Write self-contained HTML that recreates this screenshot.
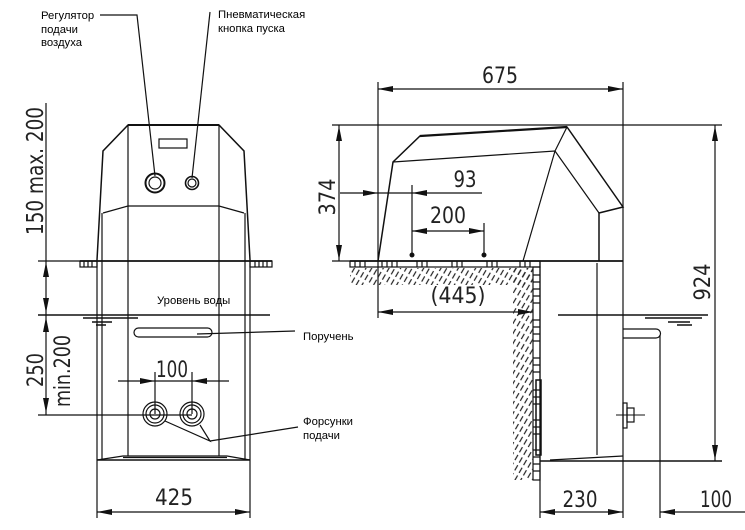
<!DOCTYPE html>
<html><head><meta charset="utf-8"><style>
html,body{margin:0;padding:0;background:#fff;}
svg{display:block;}
.l{font-family:"Liberation Sans","Noto Sans CJK SC",sans-serif;font-size:11.3px;fill:#000;}
.d{font-family:"DejaVu Sans","Liberation Sans",sans-serif;font-size:22px;fill:#222;font-weight:normal;}
</style></head><body>
<svg width="745" height="530" viewBox="0 0 745 530" xmlns="http://www.w3.org/2000/svg">
<defs>
<pattern id="h" width="5" height="9" patternUnits="userSpaceOnUse" patternTransform="rotate(30)">
<line x1="1" y1="0" x2="1" y2="9" stroke="#222" stroke-width="1.2" stroke-dasharray="6 3"/>
</pattern>
</defs>
<rect width="745" height="530" fill="#fff"/>

<g stroke="#111" fill="none" stroke-width="1.2">
<!-- ================= LEFT FIGURE ================= -->
<polyline points="97,260 103,151 128,125 219,125 244,151 250,260" stroke-width="1.5"/>
<line x1="97" y1="260" x2="97" y2="518"/>
<line x1="250" y1="260" x2="250" y2="518"/>
<line x1="128" y1="125" x2="128" y2="456"/>
<line x1="219" y1="125" x2="219" y2="456"/>
<polyline points="103,213 128,206 219,206 244,213"/>
<line x1="102" y1="213" x2="102" y2="460"/>
<line x1="245" y1="213" x2="245" y2="460"/>
<line x1="128" y1="125" x2="219" y2="125" stroke-width="2"/>
<rect x="159" y="139" width="28" height="9"/>
<circle cx="155" cy="183" r="9.5" stroke-width="2"/>
<circle cx="155" cy="183" r="6"/>
<circle cx="192" cy="183" r="6.5" stroke-width="1.6"/>
<circle cx="192" cy="183" r="4"/>
<!-- deck -->
<line x1="38" y1="261" x2="80" y2="261"/>
<line x1="80" y1="261" x2="272" y2="261" stroke-width="1.8"/>
<rect x="80" y="261" width="17" height="6"/>
<rect x="250" y="261" width="22" height="6"/>
<path d="M84,261V267M88,261V267M92,261V267M255,261V267M259,261V267M263,261V267M267,261V267"/>
<!-- water -->
<line x1="38" y1="315" x2="270" y2="315" stroke-width="1.5"/>
<line x1="83" y1="318" x2="138" y2="318" stroke-width="1.5"/>
<line x1="92" y1="322" x2="112" y2="322" stroke-width="1.5"/>
<line x1="96" y1="325" x2="106" y2="325" stroke-width="1.5"/>
<!-- handrail slot -->
<rect x="134" y="328" width="78" height="9" rx="4.5"/>
<!-- nozzles -->
<circle cx="155" cy="414" r="12"/><circle cx="155" cy="414" r="9"/><circle cx="155" cy="414" r="5"/>
<circle cx="192" cy="414" r="12"/><circle cx="192" cy="414" r="9"/><circle cx="192" cy="414" r="5"/>
<line x1="38" y1="415" x2="192" y2="415"/>
<line x1="155" y1="372" x2="155" y2="414"/>
<line x1="192" y1="372" x2="192" y2="414"/>
<!-- bottom -->
<line x1="97" y1="460" x2="250" y2="460" stroke-width="1.5"/>
<polyline points="97,460 123,456 227,456 250,460"/>
<line x1="123" y1="457.5" x2="227" y2="457.5"/>
<!-- left dims -->
<line x1="46" y1="103" x2="46" y2="415"/>
<line x1="118" y1="381" x2="229" y2="381"/>
<line x1="97" y1="512" x2="250" y2="512"/>
<!-- leaders -->
<polyline points="100,15 137,15 155,176"/>
<line x1="210" y1="12" x2="192" y2="178"/>
<line x1="197" y1="334" x2="295" y2="331"/>
<polyline points="165,421 210,441 200,425"/>
<line x1="210" y1="441" x2="298" y2="427"/>

<!-- ================= RIGHT FIGURE ================= -->
<line x1="332" y1="125" x2="722" y2="125"/>
<line x1="378" y1="82" x2="378" y2="318"/>
<line x1="623" y1="82" x2="623" y2="518"/>
<line x1="378" y1="89" x2="623" y2="89"/>
<polyline points="378,261 393,162 420,136 567,127 623,207 599,213 599,261" stroke-width="1.5"/>
<line x1="420" y1="136" x2="567" y2="127" stroke-width="2.2"/>
<polyline points="393,162 555,151 599,213"/>
<line x1="555" y1="151" x2="567" y2="127"/>
<line x1="555" y1="151" x2="523" y2="261"/>
<!-- deck -->
<line x1="332" y1="261" x2="350" y2="261"/>
<line x1="350" y1="261" x2="623" y2="261" stroke-width="1.8"/>
<rect x="350" y="261" width="190" height="6"/>
<path d="M355,261V267M360,261V267M365,261V267M382,261V267M387,261V267M392,261V267M397,261V267M417,261V267M422,261V267M427,261V267M452,261V267M457,261V267M462,261V267M487,261V267M492,261V267M497,261V267M520,261V267M525,261V267M530,261V267"/>
<rect x="533" y="267" width="7" height="213"/>
<path d="M533,275H540M533,282H540M533,289H540M533,296H540M533,303H540M533,320H540M533,327H540M533,334H540M533,341H540M533,358H540M533,365H540M533,372H540M533,390H540M533,397H540M533,404H540M533,420H540M533,427H540M533,434H540M533,450H540M533,457H540M533,464H540M533,471H540"/>
<rect x="536" y="380" width="5" height="75" stroke-width="1.5"/>
<!-- body below deck -->
<line x1="540" y1="261" x2="540" y2="518"/>
<line x1="597" y1="263" x2="597" y2="455"/>
<line x1="540" y1="461" x2="722" y2="461" stroke-width="1.4"/>
<line x1="550" y1="460" x2="623" y2="456"/>
<!-- water -->
<line x1="558" y1="315" x2="708" y2="315" stroke-width="1.5"/>
<line x1="645" y1="318" x2="702" y2="318" stroke-width="1.5"/>
<line x1="668" y1="322" x2="690" y2="322" stroke-width="1.5"/>
<line x1="677" y1="325" x2="692" y2="325" stroke-width="1.5"/>
<!-- handrail -->
<path d="M623,329H656A4.5,4.5 0 0 1 656,338H623"/>
<line x1="660" y1="335" x2="660" y2="518"/>
<!-- nozzle side -->
<rect x="623" y="403" width="4" height="25"/>
<rect x="627" y="408" width="7" height="14"/>
<line x1="616" y1="415" x2="645" y2="415" stroke-width="0.9"/>
<!-- dims -->
<line x1="339" y1="125" x2="339" y2="261"/>
<line x1="340" y1="193" x2="482" y2="193"/>
<line x1="412" y1="185" x2="412" y2="255"/>
<line x1="412" y1="231" x2="484" y2="231"/>
<line x1="484" y1="223" x2="484" y2="255"/>
<line x1="378" y1="312" x2="533" y2="312"/>
<line x1="715" y1="125" x2="715" y2="461"/>
<line x1="540" y1="512" x2="623" y2="512"/>
<line x1="660" y1="512" x2="745" y2="512"/>
</g>

<!-- hatching -->
<rect x="350" y="268" width="183" height="17" fill="url(#h)"/>
<rect x="513" y="268" width="20" height="212" fill="url(#h)"/>

<!-- dots -->
<g fill="#111">
<circle cx="412" cy="255" r="2.5"/>
<circle cx="484" cy="255" r="2.5"/>
</g>

<!-- arrows -->
<g fill="#111" stroke="none">
<polygon points="46,262 43,277 49,277"/>
<polygon points="46,313 43,298 49,298"/>
<polygon points="46,317 43,332 49,332"/>
<polygon points="46,413 43,398 49,398"/>
<polygon points="155,381 140,378 140,384"/>
<polygon points="192,381 207,378 207,384"/>
<polygon points="97,512 112,509 112,515"/>
<polygon points="250,512 235,509 235,515"/>
<polygon points="378,89 393,86 393,92"/>
<polygon points="623,89 608,86 608,92"/>
<polygon points="339,126 336,141 342,141"/>
<polygon points="339,260 336,245 342,245"/>
<polygon points="378,193 363,190 363,196"/>
<polygon points="412,193 427,190 427,196"/>
<polygon points="412,231 427,228 427,234"/>
<polygon points="484,231 469,228 469,234"/>
<polygon points="378,312 393,309 393,315"/>
<polygon points="533,312 518,309 518,315"/>
<polygon points="715,126 712,141 718,141"/>
<polygon points="715,460 712,445 718,445"/>
<polygon points="540,512 555,509 555,515"/>
<polygon points="623,512 608,509 608,515"/>
<polygon points="660,512 675,509 675,515"/>
</g>

<!-- dimension text -->
<text class="d" x="500" y="83" text-anchor="middle" textLength="36" lengthAdjust="spacingAndGlyphs">675</text>
<text class="d" x="465" y="187" text-anchor="middle" textLength="23" lengthAdjust="spacingAndGlyphs">93</text>
<text class="d" x="448" y="223" text-anchor="middle" textLength="36" lengthAdjust="spacingAndGlyphs">200</text>
<text class="d" x="458" y="303" text-anchor="middle" textLength="55" lengthAdjust="spacingAndGlyphs">(445)</text>
<text class="d" x="172" y="377" text-anchor="middle" textLength="32" lengthAdjust="spacingAndGlyphs">100</text>
<text class="d" x="174" y="505" text-anchor="middle" textLength="38" lengthAdjust="spacingAndGlyphs">425</text>
<text class="d" x="580" y="507" text-anchor="middle" textLength="35" lengthAdjust="spacingAndGlyphs">230</text>
<text class="d" x="716" y="507" text-anchor="middle" textLength="32" lengthAdjust="spacingAndGlyphs">100</text>
<text class="d" transform="translate(43,171) rotate(-90)" text-anchor="middle" textLength="128" lengthAdjust="spacingAndGlyphs" style="font-size:23px">150 max. 200</text>
<text class="d" transform="translate(43,370) rotate(-90)" text-anchor="middle" textLength="34" lengthAdjust="spacingAndGlyphs">250</text>
<text class="d" transform="translate(70,371) rotate(-90)" text-anchor="middle" textLength="72" lengthAdjust="spacingAndGlyphs">min.200</text>
<text class="d" transform="translate(335,197) rotate(-90)" text-anchor="middle" textLength="37" lengthAdjust="spacingAndGlyphs">374</text>
<text class="d" transform="translate(710,282) rotate(-90)" text-anchor="middle" textLength="37" lengthAdjust="spacingAndGlyphs">924</text>

<!-- labels -->
<text class="l" x="41" y="19">Регулятор</text>
<text class="l" x="41" y="33">подачи</text>
<text class="l" x="41" y="46">воздуха</text>
<text class="l" x="218" y="18">Пневматическая</text>
<text class="l" x="218" y="32">кнопка пуска</text>
<text class="l" x="157" y="304">Уровень воды</text>
<text class="l" x="303" y="340">Поручень</text>
<text class="l" x="303" y="425">Форсунки</text>
<text class="l" x="303" y="439">подачи</text>
</svg>
</body></html>
